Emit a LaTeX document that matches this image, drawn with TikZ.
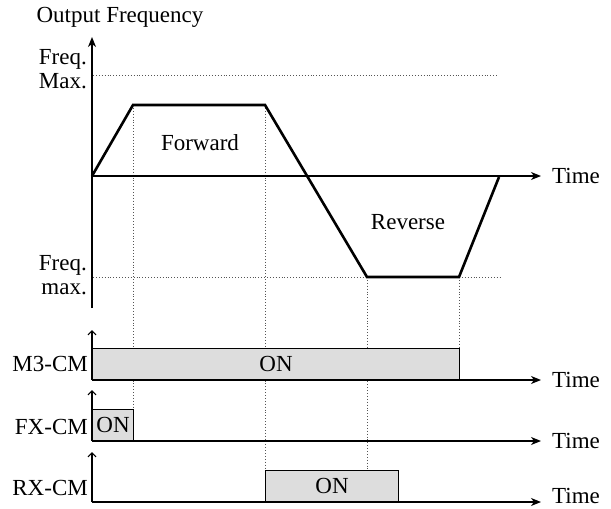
\documentclass[tikz,border=0pt]{standalone}
\usepackage{fontspec}
\setmainfont{Liberation Serif}
\usetikzlibrary{arrows.meta}
\definecolor{BoxFill}{HTML}{DDDDDD}
\definecolor{GuideLine}{HTML}{555555}

\begin{document}
\begin{tikzpicture}[
	x=1pt, y=-1pt, % one unit = one pixel of the sketch, y pointing down
	% Style for all the texts
	every node/.style={
		font=\fontsize{23}{24}\selectfont,
		inner sep=0pt
	},
	% Style for the axes
	time axis/.style={
		draw=black,
		line width=1.2pt,
		-{Stealth[length=10pt, width=8pt, inset=3pt]}
	},
	level axis/.style={
		draw=black,
		line width=1.2pt,
		-{Straight Barb[length=4pt, width=8pt]}
	},
	% Style for the speed profile
	profile/.style={
		draw=black,
		line width=2.6pt,
		line join=miter
	},
	% Style for the dotted guides
	guide/.style={
		draw=GuideLine,
		dotted,
		line width=0.9pt
	},
	% Style for the contact boxes
	on box/.style={
		draw=black,
		fill=BoxFill,
		line width=1.2pt,
		anchor=south west,
		minimum height=31pt
	}
	]
	
	\useasboundingbox (0,0) rectangle (611,509);
	
	% ================= COORDINATES =================
	\coordinate (O)  at ( 92, 176);
	\coordinate (F1) at (133, 105);
	\coordinate (F2) at (265, 105);
	\coordinate (R1) at (367, 277);
	\coordinate (R2) at (459, 277);
	\coordinate (R3) at (499, 177);
	
	% ================= TEXTS =================
	\node (title) at (120, 17) {Output Frequency};
	\node[align=right, anchor=east] (fmax) at (87, 69) {Freq.\\Max.};
	\node[align=right, anchor=east] (fmin) at (87, 275) {Freq.\\max.};
	\node (fwd) at (200, 143) {Forward};
	\node (rev) at (408, 222) {Reverse};
	\node[anchor=west] (t0) at (552, 176) {Time};
	\node[anchor=west] (t1) at (552, 380) {Time};
	\node[anchor=west] (t2) at (552, 441) {Time};
	\node[anchor=west] (t3) at (552, 496) {Time};
	\node[anchor=east] (m3) at (88, 364) {M3-CM};
	\node[anchor=east] (fx) at (88, 427) {FX-CM};
	\node[anchor=east] (rx) at (88, 488) {RX-CM};
	
	% ================= GUIDES =================
	\draw[guide] (93, 75) -- (497, 75);
	\draw[guide] (93, 277) -- (R1);
	\draw[guide] (R2) -- (500, 277);
	\draw[guide] (F1) -- (133, 410);
	\draw[guide] (F2) -- (265, 472);
	\draw[guide] (R1) -- (367, 472);
	\draw[guide] (R2) -- (459, 349);
	
	% ================= BOXES =================
	\node[on box, minimum width=367pt] (m3on) at (92, 380) {ON};
	\node[on box, minimum width=41pt]  (fxon) at (92, 441) {ON};
	\node[on box, minimum width=133pt] (rxon) at (265, 502) {ON};
	
	% ================= AXES =================
	\draw[time axis] (92, 308) -- (92, 37);
	\draw[time axis] (O) -- (541, 176);
	\draw[level axis] (m3on.south west) -- (92, 330);
	\draw[time axis] (m3on.south west) -- (541, 380);
	\draw[level axis] (fxon.south west) -- (92, 390);
	\draw[time axis] (fxon.south west) -- (541, 441);
	\draw[level axis] (92, 502) -- (92, 452);
	\draw[time axis] (92, 502) -- (541, 502);
	
	% ================= PROFILE =================
	\draw[profile] (O) -- (F1) -- (F2) -- (R1) -- (R2) -- (R3);
	
\end{tikzpicture}
\end{document}
